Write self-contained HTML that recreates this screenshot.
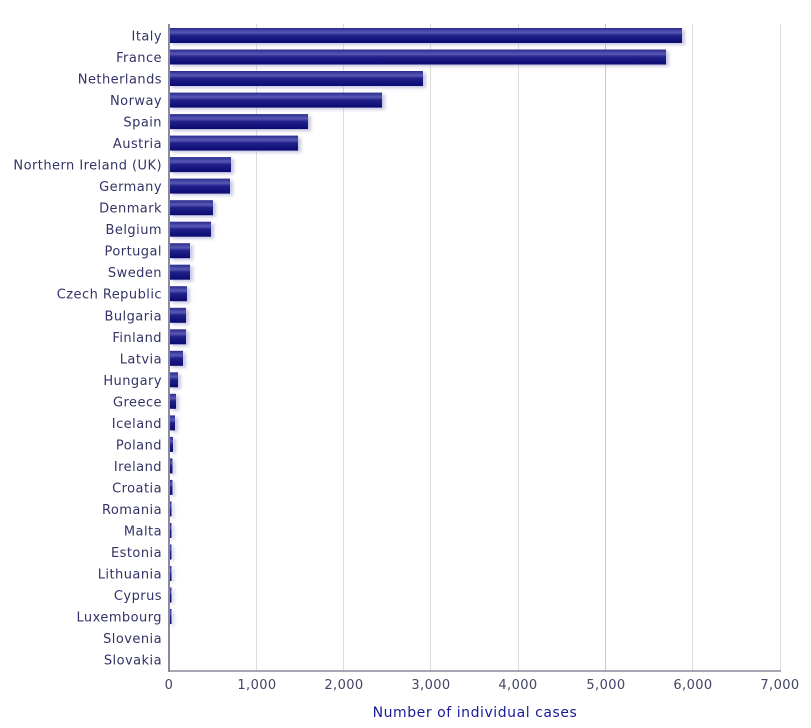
<!DOCTYPE html>
<html><head><meta charset="utf-8"><style>
body{margin:0;background:#fff}
svg{display:block;font-family:"DejaVu Sans","Liberation Sans",sans-serif}
.l{font-size:13px;letter-spacing:0.45px;fill:#333366;text-anchor:end}
.t{font-size:13px;letter-spacing:0.4px;fill:#444466;text-anchor:middle}
</style></head><body>
<svg width="811" height="728" viewBox="0 0 811 728" xmlns="http://www.w3.org/2000/svg">
<defs>
<linearGradient id="g" x1="0" y1="0" x2="0" y2="1">
<stop offset="0" stop-color="#2a2a90"/>
<stop offset="0.3" stop-color="#5858b4"/>
<stop offset="0.5" stop-color="#20208a"/>
<stop offset="1" stop-color="#0a0a70"/>
</linearGradient>
<filter id="s" x="-10%" y="-30%" width="130%" height="180%"><feGaussianBlur stdDeviation="1.5"/></filter>
</defs>
<g stroke="#dcdcdc" stroke-width="1">
<line x1="256.5" y1="24" x2="256.5" y2="671"/>
<line x1="343.5" y1="24" x2="343.5" y2="671"/>
<line x1="430.5" y1="24" x2="430.5" y2="671"/>
<line x1="518.5" y1="24" x2="518.5" y2="671"/>
<line x1="605.5" y1="24" x2="605.5" y2="671" stroke="#c8c8c8"/>
<line x1="692.5" y1="24" x2="692.5" y2="671"/>
<line x1="780.5" y1="24" x2="780.5" y2="671"/>
</g>
<g id="bars">
<g fill="#b8b8d8" filter="url(#s)" opacity="0.8">
<rect x="172" y="30" width="513" height="15"/>
<rect x="172" y="51.5" width="497" height="15"/>
<rect x="172" y="73" width="254" height="15"/>
<rect x="172" y="94.6" width="213" height="15"/>
<rect x="172" y="116.1" width="139" height="15"/>
<rect x="172" y="137.6" width="129" height="15"/>
<rect x="172" y="159.1" width="62" height="15"/>
<rect x="172" y="180.6" width="61" height="15"/>
<rect x="172" y="202.2" width="44" height="15"/>
<rect x="172" y="223.7" width="42" height="15"/>
<rect x="172" y="245.2" width="21" height="15"/>
<rect x="172" y="266.7" width="21" height="15"/>
<rect x="172" y="288.2" width="18" height="15"/>
<rect x="172" y="309.8" width="17" height="15"/>
<rect x="172" y="331.3" width="17" height="15"/>
<rect x="172" y="352.8" width="14" height="15"/>
<rect x="172" y="374.3" width="9" height="15"/>
<rect x="172" y="395.8" width="7" height="15"/>
<rect x="172" y="417.4" width="6" height="15"/>
<rect x="172" y="438.9" width="4" height="15"/>
<rect x="172" y="460.4" width="3" height="15"/>
<rect x="172" y="481.9" width="3" height="15"/>
<rect x="172" y="503.4" width="2" height="15"/>
<rect x="172" y="525" width="2" height="15"/>
<rect x="172" y="546.5" width="2" height="15"/>
<rect x="172" y="568" width="2" height="15"/>
<rect x="172" y="589.5" width="2" height="15"/>
<rect x="172" y="611" width="2" height="15"/>
</g>
<g fill="url(#g)">
<rect x="170" y="28" width="512" height="15"/>
<rect x="170" y="49.5" width="496" height="15"/>
<rect x="170" y="71" width="253" height="15"/>
<rect x="170" y="92.6" width="212" height="15"/>
<rect x="170" y="114.1" width="138" height="15"/>
<rect x="170" y="135.6" width="128" height="15"/>
<rect x="170" y="157.1" width="61" height="15"/>
<rect x="170" y="178.6" width="60" height="15"/>
<rect x="170" y="200.2" width="43" height="15"/>
<rect x="170" y="221.7" width="41" height="15"/>
<rect x="170" y="243.2" width="20" height="15"/>
<rect x="170" y="264.7" width="20" height="15"/>
<rect x="170" y="286.2" width="17" height="15"/>
<rect x="170" y="307.8" width="16" height="15"/>
<rect x="170" y="329.3" width="16" height="15"/>
<rect x="170" y="350.8" width="13" height="15"/>
<rect x="170" y="372.3" width="8" height="15"/>
<rect x="170" y="393.8" width="6" height="15"/>
<rect x="170" y="415.4" width="5" height="15"/>
<rect x="170" y="436.9" width="3" height="15"/>
<rect x="170" y="458.4" width="2.5" height="15"/>
<rect x="170" y="479.9" width="2.5" height="15"/>
<rect x="170" y="501.4" width="1.5" height="15"/>
<rect x="170" y="523" width="1.5" height="15"/>
<rect x="170" y="544.5" width="1.5" height="15"/>
<rect x="170" y="566" width="1.5" height="15"/>
<rect x="170" y="587.5" width="1.5" height="15"/>
<rect x="170" y="609" width="1.5" height="15"/>
</g>
</g>
<line x1="169" y1="24" x2="169" y2="672" stroke="#8a8a9a" stroke-width="2"/>
<line x1="168" y1="671" x2="781" y2="671" stroke="#8a8a9a" stroke-width="1.5"/>
<g class="l">
<text x="162" y="40.5">Italy</text>
<text x="162" y="62">France</text>
<text x="162" y="83.5">Netherlands</text>
<text x="162" y="105.1">Norway</text>
<text x="162" y="126.6">Spain</text>
<text x="162" y="148.1">Austria</text>
<text x="162" y="169.6">Northern Ireland (UK)</text>
<text x="162" y="191.1">Germany</text>
<text x="162" y="212.7">Denmark</text>
<text x="162" y="234.2">Belgium</text>
<text x="162" y="255.7">Portugal</text>
<text x="162" y="277.2">Sweden</text>
<text x="162" y="298.7">Czech Republic</text>
<text x="162" y="320.3">Bulgaria</text>
<text x="162" y="341.8">Finland</text>
<text x="162" y="363.3">Latvia</text>
<text x="162" y="384.8">Hungary</text>
<text x="162" y="406.3">Greece</text>
<text x="162" y="427.9">Iceland</text>
<text x="162" y="449.4">Poland</text>
<text x="162" y="470.9">Ireland</text>
<text x="162" y="492.4">Croatia</text>
<text x="162" y="513.9">Romania</text>
<text x="162" y="535.5">Malta</text>
<text x="162" y="557">Estonia</text>
<text x="162" y="578.5">Lithuania</text>
<text x="162" y="600">Cyprus</text>
<text x="162" y="621.5">Luxembourg</text>
<text x="162" y="643.1">Slovenia</text>
<text x="162" y="664.6">Slovakia</text>
</g>
<g class="t">
<text x="169" y="689">0</text>
<text x="257" y="689">1,000</text>
<text x="344" y="689">2,000</text>
<text x="431" y="689">3,000</text>
<text x="518" y="689">4,000</text>
<text x="606" y="689">5,000</text>
<text x="693" y="689">6,000</text>
<text x="780" y="689">7,000</text>
</g>
<text x="475" y="717" text-anchor="middle" style="font-size:14px;letter-spacing:0.55px;fill:#1a1a99">Number of individual cases</text>
</svg>
</body></html>
